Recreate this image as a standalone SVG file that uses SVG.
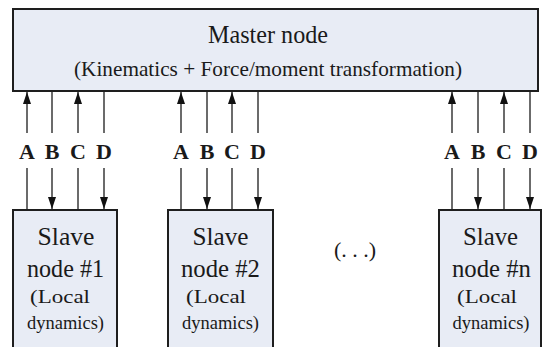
<svg xmlns="http://www.w3.org/2000/svg" width="543" height="347" viewBox="0 0 543 347">
  <style>
    .box { fill: #e8ecf5; stroke: #1e1e1e; stroke-width: 2; }
    .ln { stroke: #3a3a3a; stroke-width: 1.5; fill: none; }
  </style>
  <defs>
    <marker id="ah" viewBox="0 0 12 8" refX="12" refY="4" markerWidth="12" markerHeight="8" markerUnits="userSpaceOnUse" orient="auto">
      <path d="M0,0 L12,4 L0,8 Z" fill="#111"/>
    </marker>
  </defs>

  <rect width="543" height="347" fill="#ffffff"/>

  <g font-family="Liberation Serif, Times New Roman, serif" fill="#1a1a1a" text-anchor="middle">
    <g id="master">
      <rect class="box" x="13" y="9" width="525" height="82"/>
      <text x="268" y="43" font-size="25" textLength="120" lengthAdjust="spacingAndGlyphs">Master node</text>
      <text x="268" y="76" font-size="21" textLength="388" lengthAdjust="spacingAndGlyphs">(Kinematics + Force/moment transformation)</text>
    </g>

    <g id="slave1">
      <rect class="box" x="13" y="210" width="104" height="145"/>
      <text x="66" y="245" font-size="25" textLength="57" lengthAdjust="spacingAndGlyphs">Slave</text>
      <text x="65.5" y="277" font-size="25" textLength="77" lengthAdjust="spacingAndGlyphs">node #1</text>
      <text x="60" y="303" font-size="19" textLength="60" lengthAdjust="spacingAndGlyphs">(Local</text>
      <text x="65.5" y="329" font-size="18" textLength="77" lengthAdjust="spacingAndGlyphs">dynamics)</text>
    </g>

    <g id="slave2">
      <rect class="box" x="168" y="210" width="105" height="145"/>
      <text x="220.5" y="245" font-size="25" textLength="56" lengthAdjust="spacingAndGlyphs">Slave</text>
      <text x="220.5" y="277" font-size="25" textLength="79" lengthAdjust="spacingAndGlyphs">node #2</text>
      <text x="216" y="303" font-size="19" textLength="60" lengthAdjust="spacingAndGlyphs">(Local</text>
      <text x="220.5" y="329" font-size="18" textLength="77" lengthAdjust="spacingAndGlyphs">dynamics)</text>
    </g>

    <g id="ellipsis">
      <text x="355" y="257" font-size="22">(. . .)</text>
    </g>

    <g id="slaven">
      <rect class="box" x="439" y="210" width="102" height="145"/>
      <text x="490.5" y="245" font-size="25" textLength="55" lengthAdjust="spacingAndGlyphs">Slave</text>
      <text x="491.5" y="277" font-size="25" textLength="79" lengthAdjust="spacingAndGlyphs">node #n</text>
      <text x="487" y="303" font-size="19" textLength="60" lengthAdjust="spacingAndGlyphs">(Local</text>
      <text x="491" y="329" font-size="18" textLength="77" lengthAdjust="spacingAndGlyphs">dynamics)</text>
    </g>

    <g id="labels" font-weight="bold" font-size="22">
      <text x="27" y="159">A</text>
      <text x="52" y="159">B</text>
      <text x="78" y="159">C</text>
      <text x="104" y="159">D</text>
      <text x="181" y="159">A</text>
      <text x="207" y="159">B</text>
      <text x="232" y="159">C</text>
      <text x="258" y="159">D</text>
      <text x="452" y="159">A</text>
      <text x="478" y="159">B</text>
      <text x="504" y="159">C</text>
      <text x="530" y="159">D</text>
    </g>
  </g>

  <g id="connectors">
    <!-- group 1 -->
    <line class="ln" x1="27" y1="133" x2="27" y2="92" marker-end="url(#ah)"/>
    <line class="ln" x1="27" y1="168" x2="27" y2="209"/>
    <line class="ln" x1="52" y1="92" x2="52" y2="133"/>
    <line class="ln" x1="52" y1="168" x2="52" y2="209" marker-end="url(#ah)"/>
    <line class="ln" x1="78" y1="133" x2="78" y2="92" marker-end="url(#ah)"/>
    <line class="ln" x1="78" y1="168" x2="78" y2="209"/>
    <line class="ln" x1="104" y1="92" x2="104" y2="133"/>
    <line class="ln" x1="104" y1="168" x2="104" y2="209" marker-end="url(#ah)"/>
    <!-- group 2 -->
    <line class="ln" x1="181" y1="133" x2="181" y2="92" marker-end="url(#ah)"/>
    <line class="ln" x1="181" y1="168" x2="181" y2="209"/>
    <line class="ln" x1="207" y1="92" x2="207" y2="133"/>
    <line class="ln" x1="207" y1="168" x2="207" y2="209" marker-end="url(#ah)"/>
    <line class="ln" x1="232" y1="133" x2="232" y2="92" marker-end="url(#ah)"/>
    <line class="ln" x1="232" y1="168" x2="232" y2="209"/>
    <line class="ln" x1="258" y1="92" x2="258" y2="133"/>
    <line class="ln" x1="258" y1="168" x2="258" y2="209" marker-end="url(#ah)"/>
    <!-- group n -->
    <line class="ln" x1="452" y1="133" x2="452" y2="92" marker-end="url(#ah)"/>
    <line class="ln" x1="452" y1="168" x2="452" y2="209"/>
    <line class="ln" x1="478" y1="92" x2="478" y2="133"/>
    <line class="ln" x1="478" y1="168" x2="478" y2="209" marker-end="url(#ah)"/>
    <line class="ln" x1="504" y1="133" x2="504" y2="92" marker-end="url(#ah)"/>
    <line class="ln" x1="504" y1="168" x2="504" y2="209"/>
    <line class="ln" x1="530" y1="92" x2="530" y2="133"/>
    <line class="ln" x1="530" y1="168" x2="530" y2="209" marker-end="url(#ah)"/>
  </g>
</svg>
